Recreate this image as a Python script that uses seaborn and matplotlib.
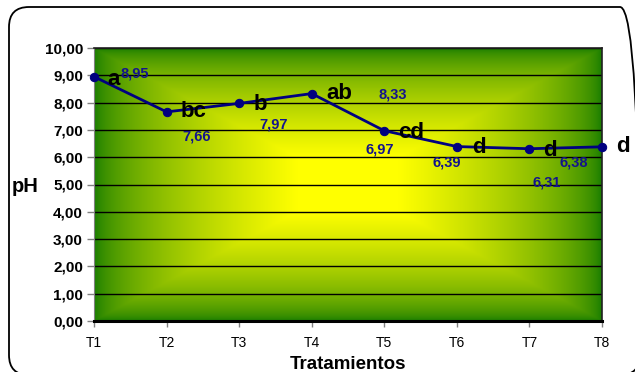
import matplotlib
matplotlib.use("Agg")
import matplotlib.pyplot as plt
import numpy as np
import pandas as pd
import seaborn as sns
from matplotlib.patches import FancyBboxPatch

# data
treatments = ["T1", "T2", "T3", "T4", "T5", "T6", "T7", "T8"]
ph_values = [8.95, 7.66, 7.97, 8.33, 6.97, 6.39, 6.31, 6.38]
letters = ["a", "bc", "b", "ab", "cd", "d", "d", "d"]
value_labels = ["8,95", "7,66", "7,97", "8,33", "6,97", "6,39", "6,31", "6,38"]

# label placement (pixel offsets from each point)
letter_offsets = [(20, -3), (27, 0), (21, -1), (28, 0), (27, -2), (22, -1), (21, -2), (21, 0)]
value_offsets = [(41, 3), (30, -25), (34, -21), (81, -1), (-5, -19), (-10, -16), (17, -34), (-28, -16)]

NAVY = "#000080"
LABEL_NAVY = "#14148c"

sns.set_theme(style="white")
plt.rcParams["font.family"] = ["Liberation Sans", "DejaVu Sans"]
plt.rcParams["text.color"] = "black"
plt.rcParams["xtick.color"] = "black"
plt.rcParams["ytick.color"] = "black"
plt.rcParams["axes.labelcolor"] = "black"

fig = plt.figure(figsize=(6.35, 3.72), dpi=100)
fig.patch.set_facecolor("white")

# rounded outer frame (right and bottom edges run off the canvas)
frame = FancyBboxPatch((0.29, 0.17), 5.91, 3.28,
                       boxstyle="round,pad=0.2", transform=fig.dpi_scale_trans,
                       facecolor="none", edgecolor="black", linewidth=1.3, zorder=-1)
fig.patches.append(frame)

ax = fig.add_axes([94 / 635, 1 - 321 / 372, 508 / 635, 273 / 372])
ax.set_zorder(1)

# rectangular "from centre" gradient: yellow centre, green edges
ny, nx = 300, 560
yy, xx = np.mgrid[-1:1:complex(0, ny), -1:1:complex(0, nx)]
t = np.clip(np.maximum(np.abs(xx), np.abs(yy)), 0, 1)
w = np.clip((1 - t) / 0.8, 0, 1) ** 0.6
green = np.array([0x14, 0x7a, 0x00]) / 255
yellow = np.array([1.0, 1.0, 0.0])
rgb = green[None, None, :] * (1 - w[..., None]) + yellow[None, None, :] * w[..., None]
ax.imshow(rgb, extent=(0, 7, 0, 10), aspect="auto", zorder=0, interpolation="bilinear")

df = pd.DataFrame({"Tratamientos": treatments, "pH": ph_values})
sns.lineplot(data=df, x="Tratamientos", y="pH", ax=ax, color=NAVY, linewidth=2,
             marker="o", markersize=6, markeredgecolor=NAVY, sort=False, zorder=3,
             clip_on=False)

for i, (v, let, lab) in enumerate(zip(ph_values, letters, value_labels)):
    ax.annotate(let, (i, v), xytext=letter_offsets[i], textcoords="offset pixels",
                ha="center", va="center", fontsize=16, fontweight="bold",
                color="black", annotation_clip=False, zorder=4)
    ax.annotate(lab, (i, v), xytext=value_offsets[i], textcoords="offset pixels",
                ha="center", va="center", fontsize=10.5, fontweight="bold",
                color=LABEL_NAVY, annotation_clip=False, zorder=4)

ax.set_xlim(0, 7)
ax.set_ylim(0, 10)
ax.set_yticks(range(0, 11))
ax.set_yticklabels([f"{v},00" for v in range(0, 11)], fontsize=11, fontweight="bold")
ax.set_xticks(range(len(treatments)))
ax.set_xticklabels(treatments, fontsize=10)
ax.yaxis.grid(True, color="black", linewidth=1)
ax.xaxis.grid(False)
ax.set_axisbelow("line")

ax.tick_params(axis="y", which="major", direction="out", length=5, width=1,
               color="#808080", pad=3, left=True, labelcolor="black")
ax.tick_params(axis="x", which="major", direction="out", length=4, width=1,
               color="#808080", pad=7, bottom=True, labelcolor="black")
for side in ["top", "right"]:
    ax.spines[side].set_visible(True)
    ax.spines[side].set_color("#202020")
    ax.spines[side].set_linewidth(1.2)
ax.spines["bottom"].set_color("black")
ax.spines["bottom"].set_linewidth(2.2)
ax.spines["left"].set_color("#808080")
ax.spines["left"].set_linewidth(0.8)

ax.set_xlabel("Tratamientos", fontsize=13.5, fontweight="bold", labelpad=4)
ax.set_ylabel("")
fig.text(12 / 635, 1 - 186 / 372, "pH", fontsize=14.5, fontweight="bold",
         ha="left", va="center")

fig.savefig("out.png", dpi=100)
